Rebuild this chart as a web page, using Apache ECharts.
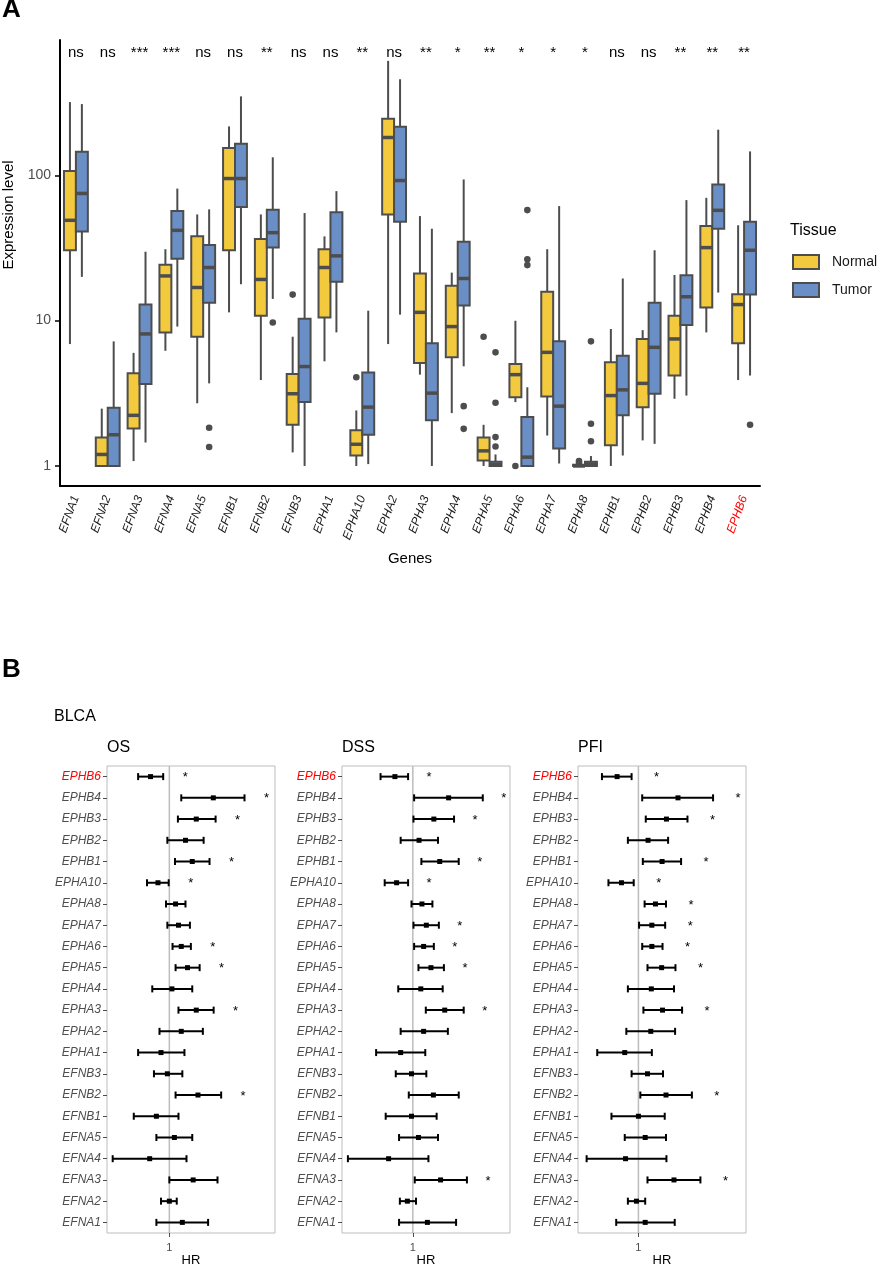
<!DOCTYPE html>
<html>
<head>
<meta charset="utf-8">
<script src="https://cdn.jsdelivr.net/npm/echarts@6/dist/echarts.min.js"></script>
<style>
  html, body { margin: 0; padding: 0; background: #fff; }
  #chart { width: 882px; height: 1266px; }
</style>
</head>
<body>
<div id="chart"></div>
<script>
// ---- panel A: expression boxplots ----
const genes = ['EFNA1', 'EFNA2', 'EFNA3', 'EFNA4', 'EFNA5', 'EFNB1', 'EFNB2', 'EFNB3', 'EPHA1', 'EPHA10', 'EPHA2',
    'EPHA3', 'EPHA4', 'EPHA5', 'EPHA6', 'EPHA7', 'EPHA8', 'EPHB1', 'EPHB2', 'EPHB3', 'EPHB4', 'EPHB6'];
const sigLabels = ['ns', 'ns', '***', '***', 'ns', 'ns', '**', 'ns', 'ns', '**', 'ns',
    '**', '*', '**', '*', '*', '*', 'ns', 'ns', '**', '**', '**'];

// [min, Q1, median, Q3, max]
const normalStats = [
    [6.9, 30.5, 49, 107, 319], [1.0, 1.0, 1.2, 1.57, 2.48], [1.08, 1.81, 2.23, 4.34, 6.0], [6.2, 8.3, 20.3, 24.2, 31],
    [2.7, 7.75, 16.9, 38, 53.8], [11.4, 30.5, 95, 154, 217], [3.9, 10.8, 19.2, 36.5, 53.8], [1.24, 1.92, 3.14, 4.3, 7.75],
    [5.25, 10.5, 23.2, 31, 38], [1.0, 1.18, 1.41, 1.76, 2.41], [6.9, 53.8, 182, 245, 613], [4.25, 5.12, 11.4, 21.1, 52.4],
    [2.31, 5.6, 9.1, 17.4, 21.4], [1.0, 1.09, 1.27, 1.57, 1.92], [2.75, 2.97, 4.25, 5.04, 9.98], [1.62, 3.0, 6.05, 15.8, 31],
    [1.0, 1.0, 1.0, 1.02, 1.04], [1.0, 1.39, 3.05, 5.17, 8.76], [1.5, 2.54, 3.7, 7.48, 8.6], [2.9, 4.19, 7.48, 10.8, 20.6],
    [8.3, 12.3, 31.8, 44.8, 70], [3.9, 6.98, 12.9, 15.2, 45.3]
];
const tumorStats = [
    [20, 41, 75, 145, 309], [1.0, 1.0, 1.64, 2.52, 7.2], [1.45, 3.67, 8.1, 12.9, 29.8], [9.1, 26.7, 41.8, 56.7, 81],
    [3.7, 13.3, 23.2, 33.2, 58.3], [17.8, 60.4, 95, 165, 349], [14.1, 31.8, 40.3, 57.9, 133], [1.0, 2.75, 4.83, 10.3, 55],
    [8.3, 18.5, 27.9, 55.6, 77.8], [1.03, 1.64, 2.54, 4.4, 11.7], [11, 47.9, 92, 216, 458], [1.0, 2.06, 3.17, 6.98, 42.9],
    [4.85, 12.7, 19.5, 34.9, 93.6], [1.0, 1.0, 1.02, 1.07, 1.2], [1.0, 1.0, 1.15, 2.17, 3.48], [1.04, 1.32, 2.58, 7.2, 61.4],
    [1.0, 1.0, 1.03, 1.07, 1.17], [1.18, 2.23, 3.34, 5.74, 19.5], [1.42, 3.14, 6.55, 13.3, 30.5], [3.05, 9.33, 14.6, 20.5, 67.5],
    [15.6, 42.9, 57.4, 86.5, 206], [4.19, 15.1, 30.5, 47.9, 146]
];
// [gene index, value]
const normalOutliers = [[7, 15.1], [9, 4.08], [13, 7.75], [14, 1.0], [16, 1.05], [16, 1.08]];
const tumorOutliers = [[4, 1.83], [4, 1.35], [6, 9.7], [12, 2.58], [12, 1.8], [13, 6.05], [13, 2.72], [13, 1.58],
    [13, 1.36], [14, 57.6], [14, 26.4], [14, 24.1], [16, 7.2], [16, 1.95], [16, 1.48], [21, 1.92]];
const exprTicks = [1, 10, 100];

// ---- panel B: Cox forest plots (BLCA) ----
const forestGenes = ['EPHB6', 'EPHB4', 'EPHB3', 'EPHB2', 'EPHB1', 'EPHA10', 'EPHA8', 'EPHA7', 'EPHA6', 'EPHA5', 'EPHA4',
    'EPHA3', 'EPHA2', 'EPHA1', 'EFNB3', 'EFNB2', 'EFNB1', 'EFNA5', 'EFNA4', 'EFNA3', 'EFNA2', 'EFNA1'];

const osHR   = [0.75, 1.96, 1.51, 1.28, 1.42, 0.84, 1.10, 1.15, 1.20, 1.32, 1.04, 1.51, 1.20, 0.88, 0.97, 1.55, 0.82, 1.08, 0.74, 1.44, 1.00, 1.22];
const osLow  = [0.62, 1.20, 1.14, 0.97, 1.09, 0.71, 0.95, 0.97, 1.05, 1.10, 0.77, 1.15, 0.86, 0.62, 0.79, 1.10, 0.58, 0.82, 0.42, 1.00, 0.88, 0.82];
const osHigh = [0.91, 3.16, 2.03, 1.69, 1.85, 0.99, 1.28, 1.37, 1.39, 1.59, 1.42, 1.97, 1.67, 1.26, 1.22, 2.21, 1.15, 1.42, 1.30, 2.09, 1.12, 1.81];
const osSig  = [1, 1, 1, 0, 1, 1, 0, 0, 1, 1, 0, 1, 0, 0, 0, 1, 0, 0, 0, 0, 0, 0];

const dssHR   = [0.76, 1.73, 1.38, 1.10, 1.51, 0.78, 1.15, 1.23, 1.18, 1.32, 1.13, 1.63, 1.18, 0.83, 0.98, 1.37, 0.98, 1.09, 0.69, 1.53, 0.92, 1.25];
const dssLow  = [0.61, 1.02, 1.01, 0.83, 1.14, 0.65, 0.98, 1.01, 1.02, 1.09, 0.80, 1.22, 0.83, 0.57, 0.77, 0.94, 0.66, 0.81, 0.37, 1.03, 0.82, 0.81];
const dssHigh = [0.93, 2.92, 1.88, 1.47, 2.02, 0.93, 1.35, 1.49, 1.38, 1.61, 1.58, 2.18, 1.71, 1.21, 1.23, 2.02, 1.44, 1.47, 1.27, 2.29, 1.05, 1.94];
const dssSig  = [1, 1, 1, 0, 1, 1, 0, 1, 1, 1, 0, 1, 0, 0, 0, 0, 0, 0, 0, 1, 0, 0];

const pfiHR   = [0.72, 1.84, 1.54, 1.16, 1.44, 0.77, 1.30, 1.23, 1.23, 1.43, 1.22, 1.45, 1.21, 0.81, 1.15, 1.53, 1.00, 1.11, 0.82, 1.73, 0.97, 1.11];
const pfiLow  = [0.57, 1.06, 1.12, 0.85, 1.07, 0.63, 1.10, 1.01, 1.06, 1.15, 0.85, 1.08, 0.83, 0.53, 0.90, 1.03, 0.66, 0.81, 0.45, 1.15, 0.85, 0.71];
const pfiHigh = [0.90, 3.16, 2.13, 1.58, 1.93, 0.93, 1.53, 1.51, 1.45, 1.77, 1.73, 1.96, 1.76, 1.23, 1.46, 2.28, 1.50, 1.53, 1.54, 2.60, 1.11, 1.75];
const pfiSig  = [1, 1, 1, 0, 1, 1, 1, 1, 1, 1, 0, 1, 0, 0, 0, 1, 0, 0, 0, 1, 0, 0];

const YELLOW = '#f3ca3e';
const BLUE = '#6a8fc7';
const INK = '#4d4d4d';
const FONT = 'Liberation Sans, Arial, sans-serif';

const chart = echarts.init(document.getElementById('chart'), null, { renderer: 'canvas' });

// ggplot-style dodge: each box is 0.375 of the band, centred at +-0.1875
function boxItem(shift) {
    return function (params, api) {
        const i = api.value(0);
        const band = params.coordSys.width / genes.length;
        const w = band * 0.375;
        const cx = api.coord([i, 1])[0] + shift * band * 0.1875;
        const y = (k) => api.coord([i, api.value(k)])[1];
        const yMin = y(1), yQ1 = y(2), yMed = y(3), yQ3 = y(4), yMax = y(5);
        const line = { stroke: INK, lineWidth: 2 };
        return {
            type: 'group',
            children: [
                { type: 'line', shape: { x1: cx, y1: yMax, x2: cx, y2: yQ3 }, style: line },
                { type: 'line', shape: { x1: cx, y1: yQ1, x2: cx, y2: yMin }, style: line },
                {
                    type: 'rect',
                    shape: { x: cx - w / 2, y: yQ3, width: w, height: Math.max(yQ1 - yQ3, 1) },
                    style: { fill: api.visual('color'), stroke: INK, lineWidth: 2 }
                },
                { type: 'line', shape: { x1: cx - w / 2, y1: yMed, x2: cx + w / 2, y2: yMed }, style: { stroke: INK, lineWidth: 3.5 } }
            ]
        };
    };
}

function outlierItem(shift) {
    return function (params, api) {
        const band = params.coordSys.width / genes.length;
        const p = api.coord([api.value(0), api.value(1)]);
        return {
            type: 'circle',
            shape: { cx: p[0] + shift * band * 0.1875, cy: p[1], r: 3.3 },
            style: { fill: INK }
        };
    };
}

function forestItem(starGap) {
    return function (params, api) {
        const row = api.value(3);
        const lo = api.coord([api.value(0), row]);
        const mid = api.coord([api.value(1), row]);
        const hi = api.coord([api.value(2), row]);
        const y = mid[1];
        const bar = { stroke: '#000', lineWidth: 2 };
        const children = [
            { type: 'line', shape: { x1: lo[0], y1: y, x2: hi[0], y2: y }, style: bar },
            { type: 'line', shape: { x1: lo[0], y1: y - 3.5, x2: lo[0], y2: y + 3.5 }, style: bar },
            { type: 'line', shape: { x1: hi[0], y1: y - 3.5, x2: hi[0], y2: y + 3.5 }, style: bar },
            { type: 'rect', shape: { x: mid[0] - 2.5, y: y - 2.5, width: 5, height: 5 }, style: { fill: '#000' } }
        ];
        if (api.value(4)) {
            children.push({
                type: 'text', x: hi[0] + starGap, y: y + 1,
                style: { text: '*', fontSize: 13, fontFamily: FONT, align: 'center', verticalAlign: 'middle', fill: '#000' }
            });
        }
        return { type: 'group', children };
    };
}

const panels = [
    { name: 'OS', hr: osHR, low: osLow, high: osHigh, sig: osSig, left: 107, min: 0.385, max: 5.04, starGap: 22 },
    { name: 'DSS', hr: dssHR, low: dssLow, high: dssHigh, sig: dssSig, left: 342, min: 0.338, max: 4.43, starGap: 21 },
    { name: 'PFI', hr: pfiHR, low: pfiLow, high: pfiHigh, sig: pfiSig, left: 578, min: 0.394, max: 5.25, starGap: 25 }
];

const labelColor = (dark) => (value) => (value === 'EPHB6' ? '#ff0000' : dark);

const grids = [{ left: 60, right: 122, top: 40, bottom: 780, outerBoundsMode: 'none', containLabel: false }];
const xAxes = [{
    type: 'category',
    gridIndex: 0,
    data: genes,
    axisLine: { lineStyle: { color: '#000', width: 2 } },
    axisTick: { alignWithLabel: true, length: 5, lineStyle: { color: '#000', width: 1.5 } },
    axisLabel: { rotate: 70, fontSize: 12, fontStyle: 'italic', color: labelColor('#1a1a1a'), margin: 10, fontFamily: FONT },
    name: 'Genes',
    nameLocation: 'middle',
    nameGap: 65,
    nameTextStyle: { fontSize: 15, color: '#000', fontFamily: FONT }
}];
const yAxes = [{
    type: 'log',
    gridIndex: 0,
    min: 0.728,
    max: 853,
    axisLine: { show: true, lineStyle: { color: '#000', width: 2 } },
    axisTick: { show: true, customValues: exprTicks, length: 5, lineStyle: { color: '#000', width: 1.5 } },
    axisLabel: { customValues: exprTicks, fontSize: 14, color: INK, margin: 9, fontFamily: FONT },
    splitLine: { show: false },
    name: 'Expression level',
    nameLocation: 'middle',
    nameRotate: 90,
    nameGap: 42,
    nameTextStyle: { fontSize: 15, color: '#000', padding: [0, 0, 0, 96], fontFamily: FONT }
}];

const series = [
    {
        type: 'custom', name: 'Normal', xAxisIndex: 0, yAxisIndex: 0,
        itemStyle: { color: YELLOW },
        encode: { x: 0, y: [1, 2, 3, 4, 5] },
        data: normalStats.map((s, i) => [i, ...s]),
        renderItem: boxItem(-1)
    },
    {
        type: 'custom', name: 'Tumor', xAxisIndex: 0, yAxisIndex: 0,
        itemStyle: { color: BLUE },
        encode: { x: 0, y: [1, 2, 3, 4, 5] },
        data: tumorStats.map((s, i) => [i, ...s]),
        renderItem: boxItem(1)
    },
    {
        type: 'custom', name: 'normal outliers', xAxisIndex: 0, yAxisIndex: 0,
        encode: { x: 0, y: 1 }, data: normalOutliers, renderItem: outlierItem(-1)
    },
    {
        type: 'custom', name: 'tumor outliers', xAxisIndex: 0, yAxisIndex: 0,
        encode: { x: 0, y: 1 }, data: tumorOutliers, renderItem: outlierItem(1)
    },
    {
        type: 'custom', name: 'significance', xAxisIndex: 0, yAxisIndex: 0,
        encode: { x: 0 },
        data: genes.map((g, i) => [i]),
        renderItem: (params, api) => ({
            type: 'text',
            x: api.coord([api.value(0), 1])[0],
            y: params.coordSys.y + 13,
            style: { text: sigLabels[api.value(0)], fontSize: 15, fontFamily: FONT, align: 'center', verticalAlign: 'middle', fill: '#000' }
        })
    }
];

const titles = [
    { text: 'A', left: 2, top: -3, padding: 0, textStyle: { fontSize: 26, fontWeight: 'bold', color: '#000', fontFamily: FONT } },
    { text: 'B', left: 2, top: 657, padding: 0, textStyle: { fontSize: 26, fontWeight: 'bold', color: '#000', fontFamily: FONT } },
    { text: 'BLCA', left: 54, top: 709, padding: 0, textStyle: { fontSize: 16, fontWeight: 'normal', color: '#000', fontFamily: FONT } },
    { text: 'Tissue', left: 790, top: 223, padding: 0, textStyle: { fontSize: 16, fontWeight: 'normal', color: '#000', fontFamily: FONT } }
];

panels.forEach((p, k) => {
    const g = k + 1;
    grids.push({
        left: p.left, top: 766, width: 168, height: 467, outerBoundsMode: 'none', containLabel: false,
        show: true, borderColor: '#bdbdbd', borderWidth: 1, backgroundColor: 'transparent'
    });
    titles.push({ text: p.name, left: p.left, top: 740, padding: 0, textStyle: { fontSize: 16, fontWeight: 'normal', color: '#000', fontFamily: FONT } });
    xAxes.push({
        type: 'log', gridIndex: g, min: p.min, max: p.max,
        axisLine: { show: false },
        axisTick: { show: true, customValues: [1], length: 4, lineStyle: { color: INK } },
        axisLabel: { customValues: [1], fontSize: 11, color: INK, margin: 9, fontFamily: FONT },
        splitLine: { show: false },
        name: 'HR', nameLocation: 'middle', nameGap: 20,
        nameTextStyle: { fontSize: 13, color: '#000', fontFamily: FONT }
    });
    yAxes.push({
        type: 'category', gridIndex: g, data: forestGenes, inverse: true,
        axisLine: { show: false },
        axisTick: { show: true, alignWithLabel: true, length: 4, lineStyle: { color: INK } },
        axisLabel: { fontSize: 12, fontStyle: 'italic', color: labelColor(INK), margin: 6, fontFamily: FONT }
    });
    series.push({
        type: 'custom', name: p.name + ' ref', xAxisIndex: g, yAxisIndex: g,
        encode: { x: 0, y: 1 }, data: [[1, 0]], z: 1,
        renderItem: (params, api) => {
            const x = api.coord([1, 0])[0];
            const cs = params.coordSys;
            return { type: 'line', shape: { x1: x, y1: cs.y, x2: x, y2: cs.y + cs.height }, style: { stroke: '#bdbdbd', lineWidth: 1.5 } };
        }
    });
    series.push({
        type: 'custom', name: p.name, xAxisIndex: g, yAxisIndex: g, z: 2,
        encode: { x: [0, 1, 2], y: 3 },
        data: forestGenes.map((gene, i) => [p.low[i], p.hr[i], p.high[i], i, p.sig[i]]),
        renderItem: forestItem(p.starGap)
    });
});

const option = {
    animation: false,
    textStyle: { fontFamily: FONT },
    title: titles,
    legend: {
        data: [{ name: 'Normal', icon: 'rect' }, { name: 'Tumor', icon: 'rect' }],
        orient: 'vertical',
        left: 792,
        top: 254,
        padding: 0,
        itemWidth: 26,
        itemHeight: 14,
        itemGap: 12,
        itemStyle: { borderColor: INK, borderWidth: 2 },
        textStyle: { fontSize: 14, color: '#1a1a1a', padding: [0, 0, 0, 8], fontFamily: FONT },
        selectedMode: false
    },
    grid: grids,
    xAxis: xAxes,
    yAxis: yAxes,
    series
};

chart.setOption(option);
</script>
</body>
</html>
